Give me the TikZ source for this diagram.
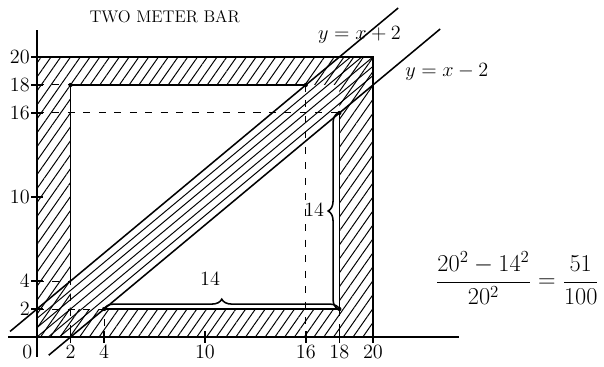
\documentclass[tikz,border=0pt]{standalone}
\usetikzlibrary{patterns.meta,decorations.pathreplacing}
\begin{document}
\begin{tikzpicture}[x=.42cm,y=.35cm,line width=1.1pt,
  hatch/.style={pattern={Lines[angle=55,distance=2mm,line width=.7pt]}},
  dashline/.style={line width=.7pt,dash pattern=on 5pt off 6pt},
  bracebig/.style={decorate,decoration={brace,amplitude=7pt}},
  numlbl/.style={font=\Large,inner sep=1pt},
  dot/.style={circle,fill,inner sep=0pt,minimum size=3pt}]
\useasboundingbox(-2.2,-2.14)rectangle(33.75,24.07);
\coordinate(a)at(2,18);\coordinate(b)at(16,18);\coordinate(c)at(2,4);
\coordinate(d)at(4,2);\coordinate(e)at(18,2);\coordinate(f)at(18,16);
% frame and bar
\fill[hatch,even odd rule](0,0)rectangle(20,20)(2,2)rectangle(18,18);
\begin{scope}\clip(0,0)rectangle(20,20);
\foreach \c in {-1.33,-.67,0,.67,1.33}\draw[line width=.7pt](-2,-2+\c)--(22,22+\c);
\end{scope}
\draw(0,0)rectangle(20,20);\draw(c)--(a)--(b);\draw(d)--(e)--(f);
\draw(-1.6,.4)--(21.5,23.5);\draw(.7,-1.3)--(24,22);
\foreach \p in {a,b,d,e,f}\node[dot]at(\p){};
% axes
\draw(0,-1.4)--(0,21.9);\draw(-1.7,0)--(25.1,0);
\foreach \v in {2,4,10,16,18,20}{\draw(\v,-.4)--(\v,.4);\draw(-.35,\v)--(.35,\v);
  \node[numlbl,anchor=north](x\v)at(\v,-.4){\v};\node[numlbl,anchor=east](y\v)at(-.3,\v){\v};}
\node[numlbl,anchor=north east](o)at(-.15,-.4){0};
\draw[dashline](0,2)--(d)--(4,0);\draw[dashline](0,4)--(c)--(2,0);
\draw[dashline](0,16)--(f);\draw[dashline](0,18)--(a);
\draw[dashline](b)--(16,0);\draw[dashline](e)--(18,0);
% braces
\draw[bracebig](d)--(e);\node[numlbl](bx)at(10.3,4.2){14};
\draw[bracebig]([xshift=-1pt]e)--([xshift=-1pt]f);\node[numlbl](by)at(16.5,9.1){14};
% labels
\node[font=\large](title)at(7.6,22.9){TWO METER BAR};
\node[font=\Large](l1)at(19.2,21.6){$y=x+2$};
\node[font=\Large](l2)at(24.4,18.9){$y=x-2$};
\node[font=\LARGE](frac)at(28.6,4.2){$\displaystyle\frac{20^2-14^2}{20^2}=\frac{51}{100}$};
\end{tikzpicture}
\end{document}
